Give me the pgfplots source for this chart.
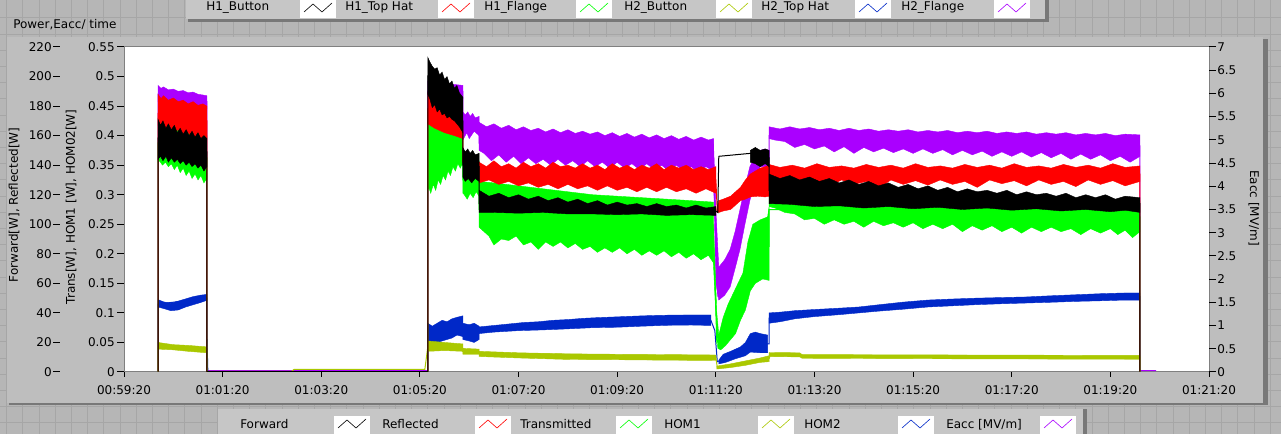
\documentclass[border=0pt]{standalone}
\usepackage{fontspec}
\setmainfont{DejaVu Sans}
\usepackage{pgfplots}
\pgfplotsset{compat=1.18}
\definecolor{cBlack}{RGB}{0,0,0}
\definecolor{cRed}{RGB}{255,0,0}
\definecolor{cGreen}{RGB}{0,255,0}
\definecolor{cYel}{RGB}{170,200,0}
\definecolor{cBlue}{RGB}{0,40,200}
\definecolor{cPur}{RGB}{170,0,255}
\definecolor{outerbg}{RGB}{182,182,182}
\definecolor{gridln}{RGB}{166,166,166}
\definecolor{panelbg}{RGB}{190,190,190}
\definecolor{legbg}{RGB}{198,198,198}
\definecolor{shadow}{RGB}{120,120,120}
\newcommand{\lf}{\fontsize{9}{10}\selectfont}
\newcommand{\icon}[3]{%
  \fill[white] (#1,#2) rectangle ({#1+36},{#2+18});
  \draw[#3,line width=0.45pt] ({#1+4},{#2+6}) -- ({#1+13},{#2+14}) -- ({#1+22},{#2+6}) -- ({#1+32},{#2+15});}
\begin{document}
\begin{tikzpicture}[x=0.75pt,y=0.75pt]
\useasboundingbox (0,0) rectangle (1281,434);
\fill[outerbg] (0,0) rectangle (1281,434);
\foreach \k in {0,...,79} {\draw[gridln,line width=0.75pt] ({6.7+16.2*\k},0) -- ({6.7+16.2*\k},434);}
\foreach \k in {0,...,26} {\draw[gridln,line width=0.75pt] (0,{416-16.2*\k}) -- (1281,{416-16.2*\k});}
% chart panel
\fill[shadow] (9,29) rectangle (1268,395);
\fill[panelbg] (7,31) rectangle (1263,397);
% top legend
\fill[shadow] (188,412) rectangle (1049,434);
\fill[legbg] (186,415) rectangle (1045,434);
\icon{300}{416}{cBlack}
\icon{438}{416}{cRed}
\icon{576}{416}{cGreen}
\icon{716}{416}{cYel}
\icon{855}{416}{cBlue}
\icon{994}{416}{cPur}
\begin{scope}[every node/.style={anchor=base west,inner sep=0pt,font=\lf}]
\node at (206,423.5) {H1\_Button};
\node at (345,423.5) {H1\_Top Hat};
\node at (484,423.5) {H1\_Flange};
\node at (624,423.5) {H2\_Button};
\node at (761,423.5) {H2\_Top Hat};
\node at (901,423.5) {H2\_Flange};
\node at (13,405) {Power,Eacc/ time};
\end{scope}
% bottom legend
\fill[shadow] (220,0) rectangle (1087,25);
\fill[legbg] (218,0) rectangle (1083,25);
\icon{334}{0}{cBlack}
\icon{475}{0}{cRed}
\icon{616}{0}{cGreen}
\icon{758}{0}{cYel}
\icon{898}{0}{cBlue}
\icon{1040}{0}{cPur}
\begin{scope}[every node/.style={anchor=base west,inner sep=0pt,font=\lf}]
\node at (240,5) {Forward};
\node at (382,5) {Reflected};
\node at (520,5) {Transmitted};
\node at (664,5) {HOM1};
\node at (804,5) {HOM2};
\node at (946,5) {Eacc [MV/m]};
\end{scope}
% axis titles
\node[rotate=90,font=\lf,inner sep=0pt] at (14,229) {Forward[W], Reflected[W]};
\node[rotate=90,font=\lf,inner sep=0pt] at (71,227) {Trans[W], HOM1 [W], HOM02[W]};
\node[rotate=-90,font=\lf,inner sep=0pt] at (1254,226) {Eacc [MV/m]};

% ---------------- main data axis ----------------
\begin{axis}[at={(93pt,46.5pt)},anchor=south west,scale only axis,
  width=813.75pt,height=243.75pt,
  xmin=0,xmax=22,ymin=0,ymax=220,
  axis background/.style={fill=white},
  axis line style={draw=gray,line width=0.75pt},
  xtick={0,2,...,22},
  xticklabels={00:59:20,01:01:20,01:03:20,01:05:20,01:07:20,01:09:20,01:11:20,01:13:20,01:15:20,01:17:20,01:19:20,01:21:20},
  xtick pos=bottom,xtick align=outside,
  major tick length=3.75pt,
  tick style={black,line width=0.75pt},
  xticklabel style={font=\lf,inner sep=0pt,yshift=-6.5pt},
  ytick=\empty,
  clip=true]
% ===== Purple : Eacc =====
\addplot[fill=cPur,draw=cPur,line width=0.3pt] coordinates {(0.69,194) (0.75,192) (0.8,193) (0.9,191) (1.0,191.5) (1.1,190) (1.2,190.5) (1.3,189) (1.4,189.5) (1.5,188) (1.6,187.5) (1.68,187) (1.68,178) (1.3,179) (1.0,181) (0.69,183)} -- cycle;
\addplot[fill=cPur,draw=cPur,line width=0.3pt] coordinates {(6.16,197) (6.4,196) (6.6,195) (6.87,194) (6.87,185) (6.16,188)} -- cycle;
\addplot[fill=cPur,draw=cPur,line width=0.3pt] coordinates {(6.87,176) (6.92,174) (6.97,176) (7.02,173) (7.07,175) (7.12,172) (7.2,173) (7.2,160) (7.1,163) (7.0,158) (6.95,162) (6.87,157)} -- cycle;
\addplot[fill=cPur,draw=cPur,line width=0.3pt] coordinates {(7.2,169) (7.35,166) (7.5,168) (7.65,165) (7.8,167) (7.95,164) (8.1,166) (8.25,163.5) (8.4,165) (8.55,162.5) (8.7,164.5) (8.85,162) (9.0,164) (9.15,161.5) (9.3,163) (9.45,161) (9.6,162.5) (9.75,160) (9.9,162) (10.05,159.5) (10.2,161.5) (10.35,159) (10.5,161) (10.65,158.5) (10.8,160.5) (10.95,158) (11.1,160) (11.25,157.5) (11.4,159.5) (11.55,157) (11.7,159) (11.85,157) (11.95,158)
 (11.95,136) (11.8,139) (11.65,135) (11.5,139) (11.35,136) (11.2,140) (11.05,136) (10.9,140) (10.75,137) (10.6,141) (10.45,137) (10.3,141) (10.15,138) (10.0,142) (9.85,138) (9.7,142) (9.55,139) (9.4,143) (9.25,139) (9.1,143) (8.95,140) (8.8,144) (8.65,140) (8.5,144) (8.35,141) (8.2,145) (8.05,141) (7.9,146) (7.75,142) (7.6,147) (7.45,143) (7.3,148) (7.2,150)} -- cycle;
\addplot[fill=cPur,draw=cPur,line width=0.3pt] coordinates {(11.95,158) (12.0,110) (12.06,71) (12.18,76) (12.29,83) (12.39,95) (12.49,110) (12.59,125) (12.69,139) (12.8,146) (12.9,150) (13.0,151) (13.08,150) (13.08,139) (12.9,139) (12.8,130) (12.69,116) (12.59,100) (12.49,83) (12.39,70) (12.29,57.5) (12.18,52) (12.06,48.7) (12.0,60) (11.95,138)} -- cycle;
\addplot[fill=cPur,draw=cPur,line width=0.3pt] coordinates {(13.08,166) (13.3,164.5) (13.5,166) (13.7,164.5) (13.9,165.5) (14.1,164) (14.3,165) (14.5,163.5) (14.7,165) (14.9,163.5) (15.1,164.5) (15.3,163) (15.5,164) (15.7,163) (15.9,164) (16.1,162.5) (16.3,163.5) (16.5,162.5) (16.7,163.5) (16.9,162) (17.1,163) (17.3,162) (17.5,163) (17.7,161.5) (17.9,162.5) (18.1,161.5) (18.3,162.5) (18.5,161) (18.7,162) (18.9,161) (19.1,162) (19.3,160.5) (19.5,161.5) (19.7,160.5) (19.9,161.5) (20.1,160) (20.3,161) (20.6,160.5)
 (20.6,146) (20.4,142) (20.2,146) (20.0,143) (19.8,147) (19.6,144) (19.4,147.5) (19.2,144) (19.0,148) (18.8,145) (18.6,148.5) (18.4,145.5) (18.2,149) (18.0,146) (17.8,149) (17.6,146) (17.4,149.5) (17.2,147) (17.0,150) (16.8,147) (16.6,150.5) (16.4,148) (16.2,151) (16.0,148) (15.8,151) (15.6,148.5) (15.4,151.5) (15.2,149) (15.0,152) (14.8,148) (14.6,152.5) (14.4,149) (14.2,153) (14.0,151) (13.8,154) (13.6,152) (13.4,156) (13.2,157) (13.08,158)} -- cycle;
\addplot[cPur,line width=0.75pt] coordinates {(0.69,0.9) (0.69,188) (1.68,183) (1.68,0.9) (6.16,0.9) (6.16,190) (6.87,190) (6.87,165) (7.2,165) (7.2,155) (11.95,148) (12.0,100) (12.04,52) (12.29,70) (12.49,96) (12.69,128) (12.9,145) (13.08,145) (13.08,160) (20.6,153) (20.6,0.9) (20.93,0.9)};
% ===== Blue : HOM2 =====
\addplot[fill=cBlue,draw=cBlue,line width=0.3pt] coordinates {(0.69,49) (0.8,47.5) (0.95,46.5) (1.1,48) (1.25,49.5) (1.4,51) (1.55,52) (1.68,52.5) (1.68,48.5) (1.55,47) (1.4,45.5) (1.25,44) (1.1,42) (0.95,41.5) (0.8,43) (0.69,44)} -- cycle;
\addplot[fill=cBlue,draw=cBlue,line width=0.3pt] coordinates {(6.16,33) (6.25,31) (6.35,33) (6.45,35) (6.55,34) (6.65,36) (6.75,37) (6.87,38) (6.87,24) (6.75,25) (6.65,23) (6.55,22) (6.45,21) (6.35,20) (6.25,20) (6.16,21)} -- cycle;
\addplot[fill=cBlue,draw=cBlue,line width=0.3pt] coordinates {(6.87,33) (7.0,32) (7.1,33) (7.2,31) (7.2,22) (7.1,20) (7.0,21) (6.87,22)} -- cycle;
\addplot[fill=cBlue,draw=cBlue,line width=0.3pt] coordinates {(7.2,30.5) (7.5,31.5) (7.8,32.5) (8.1,33.5) (8.4,34) (8.7,35) (9.0,35.5) (9.3,36.3) (9.6,36.8) (9.9,37.2) (10.2,37.6) (10.5,38) (10.8,38.3) (11.1,38.5) (11.4,38.6) (11.7,38.6) (11.9,38.6) (11.9,31.5) (11.5,31.8) (11.0,31.6) (10.5,31) (10.0,30.3) (9.5,30) (9.0,29.2) (8.5,28.5) (8.0,28) (7.5,27) (7.2,26)} -- cycle;
\addplot[fill=cBlue,draw=cBlue,line width=0.3pt] coordinates {(12.06,8) (12.15,12) (12.3,14) (12.5,17) (12.6,20) (12.7,26) (12.8,27) (12.9,26) (13.05,25) (13.05,13) (12.9,13) (12.7,13.5) (12.6,11) (12.4,9) (12.2,6.5) (12.06,5.5)} -- cycle;
\addplot[fill=cBlue,draw=cBlue,line width=0.3pt] coordinates {(13.08,40) (13.3,40.5) (13.6,41.5) (14.0,42.3) (14.5,43.2) (14.9,44) (15.3,45.5) (15.8,47.3) (16.3,48.7) (16.8,49.4) (17.3,50) (17.8,50.4) (18.3,50.8) (18.8,51.6) (19.3,52.3) (19.8,53) (20.3,53.5) (20.6,53.5) (20.6,48.7) (20.3,48.7) (19.8,48.2) (19.3,47.8) (18.8,47.2) (18.3,46.7) (17.8,46.2) (17.3,45.6) (16.8,44.8) (16.3,44) (15.8,42.5) (15.3,41.2) (14.9,40) (14.5,38.8) (14.0,37.5) (13.6,36) (13.3,34) (13.08,33)} -- cycle;
\addplot[cBlue,line width=0.75pt] coordinates {(0.69,0.3) (0.69,46) (1.68,50) (1.68,26) (1.7,0.3) (6.16,0.3) (6.16,27) (6.87,31) (6.87,27) (7.2,27) (7.2,28) (11.9,35) (11.98,28) (12.03,7) (12.5,13) (12.7,20) (13.08,19) (13.08,36.5) (13.6,38.7) (14.5,41) (15.3,43.3) (16.3,46.3) (17.3,47.8) (18.3,48.7) (19.3,50) (20.3,51.1) (20.6,51.1) (20.6,0.3)};
% ===== Yellow : HOM1 =====
\addplot[fill=cYel,draw=cYel,line width=0.3pt] coordinates {(0.69,20) (1.0,18.5) (1.3,18) (1.68,17) (1.68,13) (1.3,14) (1.0,15) (0.69,15.5)} -- cycle;
\addplot[fill=cYel,draw=cYel,line width=0.3pt] coordinates {(6.16,21) (6.5,20) (6.87,19) (6.87,14) (6.5,14.5) (6.16,14)} -- cycle;
\addplot[fill=cYel,draw=cYel,line width=0.3pt] coordinates {(6.87,16) (7.2,15.5) (7.2,12) (6.87,12)} -- cycle;
\addplot[fill=cYel,draw=cYel,line width=0.3pt] coordinates {(7.2,14) (8.0,13) (9.0,12.3) (10.0,12) (11.0,11.8) (12.0,11.5) (12.0,7.8) (11.0,8) (10.0,8.3) (9.0,8.5) (8.0,9.5) (7.2,10.5)} -- cycle;
\addplot[fill=cYel,draw=cYel,line width=0.3pt] coordinates {(12.02,4) (12.3,5.5) (12.6,7.5) (12.9,9.5) (13.08,11) (13.08,7) (12.9,6.5) (12.6,4.5) (12.3,3) (12.02,2)} -- cycle;
\addplot[fill=cYel,draw=cYel,line width=0.3pt] coordinates {(13.08,13.2) (13.7,13) (13.75,11.8) (16,11.6) (20.6,11.2) (20.6,8.6) (16,9) (13.75,9.3) (13.7,10.2) (13.08,10.5)} -- cycle;
\addplot[cYel,line width=0.75pt] coordinates {(0.69,0.5) (0.69,17) (1.68,15) (1.68,0.5) (3.4,0.5) (3.45,1.8) (6.1,1.8) (6.16,17) (6.87,16) (6.87,14) (7.2,13) (12.0,10) (12.03,3) (13.08,9) (13.1,11) (20.6,10) (20.6,0.5)};
% ===== Green : Transmitted =====
\addplot[fill=cGreen,draw=cGreen,line width=0.3pt] coordinates {(0.69,172) (0.8,170) (0.9,168) (1.0,167) (1.1,165) (1.2,164) (1.3,163) (1.4,162) (1.5,161) (1.6,160) (1.68,160) (1.68,131) (1.62,128) (1.56,133) (1.5,130) (1.44,134) (1.38,131) (1.32,136) (1.26,133) (1.2,138) (1.14,135) (1.08,140) (1.02,137) (0.96,141) (0.9,139) (0.84,142) (0.78,140) (0.72,143) (0.69,142)} -- cycle;
\addplot[fill=cGreen,draw=cGreen,line width=0.3pt] coordinates {(6.16,176) (6.3,172) (6.45,169) (6.6,165) (6.75,162) (6.87,159) (6.87,142) (6.82,138) (6.77,141) (6.72,136) (6.67,139) (6.62,133) (6.57,136) (6.52,130) (6.47,133) (6.42,127) (6.37,130) (6.32,123) (6.27,127) (6.22,121) (6.18,125) (6.16,123)} -- cycle;
\addplot[fill=cGreen,draw=cGreen,line width=0.3pt] coordinates {(6.87,145) (7.2,143) (7.2,119) (7.14,122) (7.08,118) (7.02,121) (6.96,117) (6.9,120) (6.87,121)} -- cycle;
\addplot[fill=cGreen,draw=cGreen,line width=0.3pt] coordinates {(7.2,129) (7.5,128) (8.0,126) (8.5,124) (9.0,122) (9.5,120) (10.0,119) (10.5,118) (11.0,117) (11.5,116) (11.95,115)
 (11.95,74) (11.85,79) (11.7,76) (11.55,80) (11.4,77) (11.25,81) (11.1,78) (10.95,82) (10.8,79) (10.65,82) (10.5,79) (10.35,83) (10.2,80) (10.05,84) (9.9,81) (9.75,84) (9.6,81) (9.45,85) (9.3,83) (9.15,87) (9.0,84) (8.85,88) (8.7,85) (8.55,88) (8.4,83) (8.25,88) (8.1,86) (7.95,92) (7.8,89) (7.65,90) (7.5,86) (7.4,92) (7.3,95) (7.2,98)} -- cycle;
\addplot[fill=cGreen,draw=cGreen,line width=0.3pt] coordinates {(11.95,100) (12.02,40) (12.06,25) (12.15,37) (12.25,46) (12.35,53) (12.45,60) (12.55,67) (12.65,88) (12.75,100) (12.9,103) (13.05,105) (13.08,112) (13.08,62) (12.95,63) (12.8,60) (12.7,55) (12.6,42) (12.5,35) (12.4,26) (12.3,22) (12.2,18) (12.1,15) (12.04,16) (12.0,40) (11.95,74)} -- cycle;
\addplot[fill=cGreen,draw=cGreen,line width=0.3pt] coordinates {(13.08,128) (16,122) (20.6,116)
 (20.6,95) (20.45,91) (20.3,96) (20.15,93) (20.0,97) (19.8,94) (19.6,97) (19.4,93) (19.2,97) (19.0,95) (18.8,98) (18.6,95) (18.4,98) (18.2,94) (18.0,98) (17.8,95) (17.6,99) (17.4,96) (17.2,99) (17.0,95) (16.8,100) (16.6,97) (16.4,100) (16.2,97) (16.0,101) (15.8,98) (15.6,101) (15.4,99) (15.2,102) (15.0,98) (14.8,102) (14.6,100) (14.4,103) (14.2,100) (14.0,104) (13.8,103) (13.6,107) (13.4,108) (13.2,111) (13.08,112)} -- cycle;
\addplot[cGreen,line width=0.75pt] coordinates {(0.69,0.3) (0.69,155) (1.68,145) (1.68,0.3) (6.16,0.3) (6.16,150) (6.87,150) (6.87,130) (7.2,130) (7.2,110) (11.95,95) (12.02,20) (12.3,37) (12.55,52) (12.75,80) (13.08,85) (13.08,110) (20.6,105) (20.6,0.3)};
% ===== Red : Reflected =====
\addplot[fill=cRed,draw=cRed,line width=0.3pt] coordinates {(0.69,188) (0.75,185) (0.8,187) (0.9,184) (1.0,185.5) (1.1,183) (1.2,184) (1.3,181.5) (1.4,183) (1.5,180.5) (1.6,181.5) (1.68,180) (1.68,158) (1.6,156) (1.5,160) (1.4,158) (1.3,162) (1.2,160) (1.1,164) (1.0,162) (0.9,166) (0.8,164) (0.69,167)} -- cycle;
\addplot[fill=cRed,draw=cRed,line width=0.3pt] coordinates {(6.16,189) (6.22,184) (6.3,185) (6.38,180) (6.46,181) (6.54,176) (6.62,177) (6.7,172) (6.78,170) (6.87,166) (6.87,158) (6.7,160) (6.5,162) (6.3,165) (6.16,168)} -- cycle;
\addplot[fill=cRed,draw=cRed,line width=0.3pt] coordinates {(7.2,142) (7.35,139) (7.5,143) (7.65,139) (7.8,141) (7.95,138) (8.1,142) (8.25,139) (8.4,141) (8.55,138) (8.7,142) (8.85,139) (9.0,140) (9.15,138) (9.3,141) (9.45,138) (9.6,140) (9.75,137) (9.9,141) (10.05,138) (10.2,140) (10.35,137) (10.5,140) (10.65,138) (10.8,141) (10.95,137) (11.1,140) (11.25,138) (11.4,140) (11.55,137) (11.7,139) (11.85,137) (12.0,139)
 (12.0,121) (11.8,124) (11.6,121) (11.4,124) (11.2,122) (11.0,125) (10.8,122) (10.6,125) (10.4,122) (10.2,125) (10.0,123) (9.8,126) (9.6,123) (9.4,126) (9.2,124) (9.0,127) (8.8,124) (8.6,127) (8.4,125) (8.2,128) (8.0,126) (7.8,129) (7.6,127) (7.4,130) (7.2,128)} -- cycle;
\addplot[fill=cRed,draw=cRed,line width=0.3pt] coordinates {(12.02,110) (12.06,116) (12.15,117) (12.3,119) (12.4,122) (12.5,125) (12.6,130) (12.7,134) (12.8,136) (12.9,138) (13.0,139) (13.08,140) (13.08,119) (13.0,118.5) (12.85,119) (12.7,118.5) (12.6,117) (12.5,116) (12.4,113) (12.3,110) (12.15,109) (12.06,108) (12.02,108)} -- cycle;
\addplot[fill=cRed,draw=cRed,line width=0.3pt] coordinates {(13.08,140.5) (13.3,138.5) (13.55,140) (13.8,138) (14.05,141) (14.3,138.5) (14.55,139.5) (14.8,138) (15.05,140.5) (15.3,138.5) (15.55,140) (15.8,138) (16.05,141) (16.3,138.5) (16.55,139.5) (16.8,138) (17.05,140.5) (17.3,138.5) (17.55,140) (17.8,138) (18.05,141) (18.3,138.5) (18.55,139.5) (18.8,138) (19.05,140.5) (19.3,138.5) (19.55,140) (19.8,138) (20.05,141) (20.3,138.5) (20.6,139.5)
 (20.6,129) (20.3,126) (20.05,129.5) (19.8,127) (19.55,130) (19.3,125.5) (19.05,129) (18.8,127) (18.55,130) (18.3,126) (18.05,129.5) (17.8,127.5) (17.55,130) (17.3,125) (17.05,129) (16.8,127) (16.55,130) (16.3,126.5) (16.05,129.5) (15.8,127) (15.55,130) (15.3,124.5) (15.05,129) (14.8,127) (14.55,130) (14.3,126) (14.05,129.5) (13.8,127.5) (13.55,130) (13.3,127) (13.08,129.5)} -- cycle;
\addplot[cRed,line width=0.75pt] coordinates {(0.69,0.3) (0.69,175) (1.68,170) (1.68,0.3) (6.16,0.3) (6.16,178) (6.87,162) (6.87,142) (7.2,142) (7.2,133) (12.0,130) (12.03,109) (12.3,114) (12.5,120) (12.7,126) (13.08,129) (13.08,134) (20.6,134) (20.6,0.3)};
% ===== Black : Forward =====
\addplot[fill=cBlack,draw=cBlack,line width=0.3pt] coordinates {(0.69,171) (0.74,167) (0.79,170) (0.85,165) (0.9,168) (0.96,164) (1.02,167) (1.08,162) (1.14,165) (1.2,161) (1.26,164) (1.32,160) (1.38,163) (1.44,159) (1.5,162) (1.56,158) (1.62,160) (1.68,158)
 (1.68,139) (1.62,136) (1.56,140) (1.5,138) (1.44,141) (1.38,139) (1.32,142) (1.26,140) (1.2,143) (1.14,141) (1.08,144) (1.02,142) (0.96,145) (0.9,142) (0.85,146) (0.79,143) (0.74,146) (0.69,144)} -- cycle;
\addplot[fill=cBlack,draw=cBlack,line width=0.3pt] coordinates {(6.16,213) (6.2,210) (6.25,207) (6.3,205) (6.35,206) (6.4,201) (6.45,203) (6.5,198) (6.55,200) (6.6,195) (6.65,197) (6.7,192) (6.75,194) (6.8,189) (6.87,186)
 (6.87,162) (6.8,166) (6.75,168) (6.7,170) (6.65,171) (6.6,173) (6.55,172) (6.5,175) (6.45,174) (6.4,178) (6.35,176) (6.3,181) (6.25,179) (6.2,185) (6.16,188)} -- cycle;
\addplot[fill=cBlack,draw=cBlack,line width=0.3pt] coordinates {(6.87,152) (6.92,149) (6.97,151) (7.02,148) (7.07,150) (7.12,147) (7.2,148) (7.2,129) (7.12,131) (7.05,128) (6.98,131) (6.92,129) (6.87,132)} -- cycle;
\addplot[fill=cBlack,draw=cBlack,line width=0.3pt] coordinates {(7.2,123) (7.4,119) (7.6,121) (7.8,118) (8.0,120) (8.2,117) (8.4,119) (8.6,116) (8.8,118) (9.0,115) (9.2,117) (9.4,114) (9.6,116) (9.8,113) (10.0,115) (10.2,113) (10.4,114) (10.6,112) (10.8,114) (11.0,112) (11.2,113) (11.4,111) (11.6,113) (11.8,111) (12.0,112)
 (12.0,106) (11.5,106.5) (11.0,106) (10.5,107) (10.0,106.5) (9.5,107) (9.0,107) (8.5,108) (8.0,107.5) (7.5,108) (7.2,108)} -- cycle;
\addplot[fill=cBlack,draw=cBlack,line width=0.3pt] coordinates {(12.7,150) (12.8,152) (12.9,150) (13.0,151) (13.08,150) (13.08,139) (13.0,141) (12.9,139) (12.8,141) (12.7,142)} -- cycle;
\addplot[fill=cBlack,draw=cBlack,line width=0.3pt] coordinates {(13.08,134) (13.3,131) (13.5,133) (13.7,130) (13.9,132) (14.1,129) (14.3,131) (14.5,128) (14.7,130) (14.9,127) (15.1,129) (15.3,126) (15.5,128) (15.7,125) (15.9,127) (16.1,124) (16.3,126) (16.5,123) (16.7,125) (16.9,122) (17.1,124) (17.3,122) (17.5,123) (17.7,121) (17.9,123) (18.1,120) (18.3,122) (18.5,120) (18.7,121) (18.9,119) (19.1,121) (19.3,118) (19.5,120) (19.7,118) (19.9,120) (20.1,117) (20.3,119) (20.6,118)
 (20.6,108) (20.3,109.5) (20.0,108.5) (19.5,110) (19.0,109) (18.5,110.5) (18.0,109.5) (17.5,111) (17.0,110) (16.5,111.5) (16.0,110.5) (15.5,112) (15.0,111) (14.5,112.5) (14.0,112) (13.5,113.5) (13.08,114)} -- cycle;
\addplot[cBlack,line width=0.75pt] coordinates {(0.69,0.3) (0.69,158) (0.72,157) (1.68,149) (1.68,0.3) (6.16,0.3) (6.16,200) (6.87,170) (6.87,140) (7.2,139) (7.2,114) (12.0,109) (12.04,108) (12.06,146) (12.7,148) (13.08,145) (13.08,123) (20.6,114) (20.6,0.3)};
\end{axis}

% ---------------- tick-only axes ----------------
\begin{axis}[at={(93pt,46.5pt)},anchor=south west,scale only axis,
  width=813.75pt,height=243.75pt,
  xmin=0,xmax=22,ymin=0,ymax=0.55,
  hide x axis,axis y line*=left,y axis line style={draw=none},
  ytick={0,0.05,...,0.56},
  yticklabels={0,0.05,0.1,0.15,0.2,0.25,0.3,0.35,0.4,0.45,0.5,0.55},
  ytick align=outside,major tick length=5.25pt,
  tick style={black,line width=0.75pt},
  yticklabel style={font=\lf,inner sep=0pt,xshift=-1.5pt}]
\end{axis}
\begin{axis}[at={(45pt,46.5pt)},anchor=south west,scale only axis,
  width=1pt,height=243.75pt,
  xmin=0,xmax=1,ymin=0,ymax=220,
  hide x axis,axis y line*=left,y axis line style={draw=none},
  ytick={0,20,...,220},
  yticklabels={0,20,40,60,80,100,120,140,160,180,200,220},
  ytick align=outside,major tick length=5.25pt,
  tick style={black,line width=0.75pt},
  yticklabel style={font=\lf,inner sep=0pt,xshift=-0.75pt}]
\end{axis}
\begin{axis}[at={(93pt,46.5pt)},anchor=south west,scale only axis,
  width=813.75pt,height=243.75pt,
  xmin=0,xmax=22,ymin=0,ymax=7,
  hide x axis,axis y line*=right,y axis line style={draw=none},
  ytick={0,0.5,...,7},
  yticklabels={0,0.5,1,1.5,2,2.5,3,3.5,4,4.5,5,5.5,6,6.5,7},
  ytick align=outside,major tick length=5.25pt,
  tick style={black,line width=0.75pt},
  yticklabel style={font=\lf,inner sep=0pt,xshift=0.75pt}]
\end{axis}
\end{tikzpicture}
\end{document}
